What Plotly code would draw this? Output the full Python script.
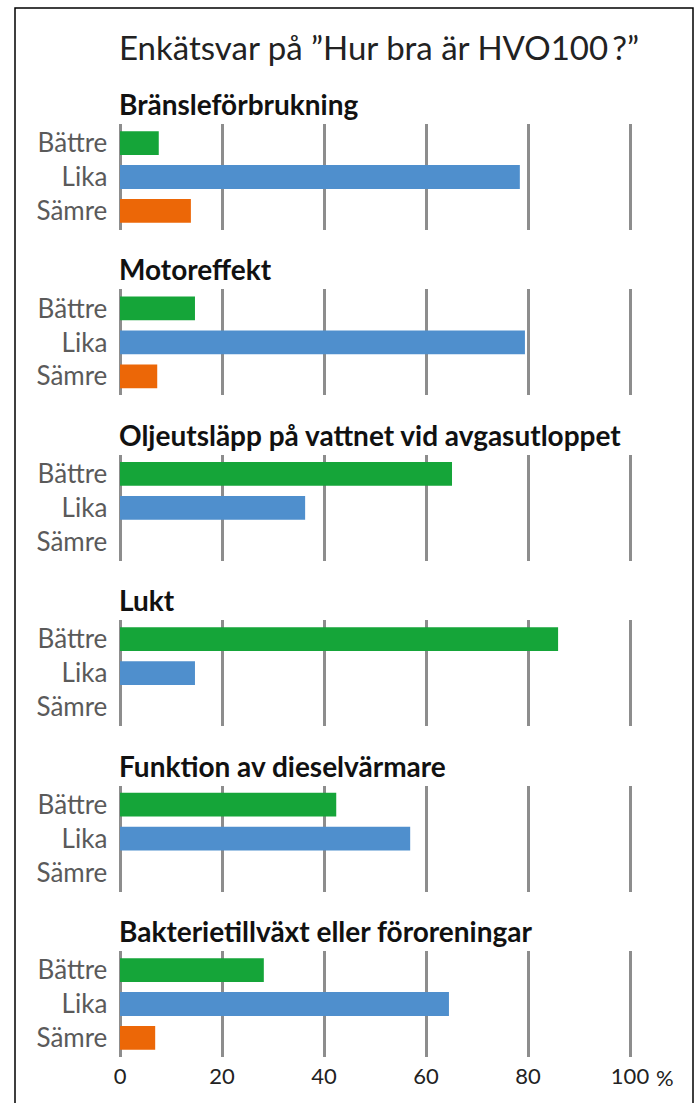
import plotly.graph_objects as go

W, H = 699, 1103

categories = ["Bättre", "Lika", "Sämre"]
topics = [
    "Bränsleförbrukning",
    "Motoreffekt",
    "Oljeutsläpp på vattnet vid avgasutloppet",
    "Lukt",
    "Funktion av dieselvärmare",
    "Bakterietillväxt eller föroreningar",
]
battre = [7.6, 14.7, 65.1, 85.9, 42.4, 28.2]
lika = [78.4, 79.4, 36.3, 14.7, 56.9, 64.5]
samre = [13.9, 7.3, 0, 0, 0, 6.9]
x_ticks = [0, 20, 40, 60, 80, 100]
x_ticktext = ["0", "20", "40", "60", "80", "100"]
title_text = "Enkätsvar på ”Hur bra är HVO100\u2009?”"

colors = ["#15a539", "#4f8fcd", "#ec6707"]
grid_col = "#8d8d8d"
FONT = "Lato, Carlito, Calibri, sans-serif"

def py(p):
    return 1 - p / H

PXU = 5.1  # px per unit
X0 = 120
xr = [-1.5, 101.5]
dom = [(X0 + xr[0] * PXU) / W, (X0 + xr[1] * PXU) / W]

fig = go.Figure()
step = 165.4
for k, name in enumerate(topics):
    off = k * step
    top, bot = 124 + off, 230 + off
    axn = "" if k == 0 else str(k + 1)
    vals = [battre[k], lika[k], samre[k]]
    fig.add_trace(go.Bar(
        x=vals, y=[0, 1, 2], orientation="h", width=0.7,
        marker=dict(color=colors, line=dict(width=0)),
        xaxis="x" + axn, yaxis="y" + axn, showlegend=False, hoverinfo="skip",
    ))
    last = k == len(topics) - 1
    fig.layout["xaxis" + axn] = dict(
        domain=dom, range=xr, automargin=False,
        tickvals=x_ticks, ticktext=x_ticktext, showticklabels=last,
        showgrid=True, gridcolor=grid_col, gridwidth=2.5, zeroline=False,
        showline=False, ticks="", anchor="y" + axn,
        tickfont=dict(family=FONT, size=22, color="#222222"),
        ticklabelstandoff=4,
        fixedrange=True,
    )
    fig.layout["yaxis" + axn] = dict(
        domain=[py(bot), py(top)], range=[2.56, -0.56], automargin=False,
        tickvals=[0, 1, 2], ticktext=categories, showgrid=False,
        zeroline=False, showline=False, ticks="", anchor="x" + axn,
        tickfont=dict(family=FONT, size=26, color="#5a5a5a"),
        ticklabelstandoff=4,
        fixedrange=True,
    )
    fig.add_annotation(
        text="<b>" + name + "</b>", x=117 / W, y=py(104 + off),
        xref="paper", yref="paper", xanchor="left", yanchor="middle",
        showarrow=False, font=dict(family=FONT, size=28, color="#111111"),
    )

fig.add_annotation(
    text="%", x=100, xref="x6", xshift=24, y=py(1077), yref="paper",
    xanchor="left", yanchor="middle", showarrow=False,
    font=dict(family=FONT, size=22, color="#222222"),
)
fig.add_annotation(
    text=title_text, x=117 / W, y=py(47), xref="paper", yref="paper",
    xanchor="left", yanchor="middle", showarrow=False,
    font=dict(family=FONT, size=33, color="#222222"),
)
fig.add_shape(type="rect", xref="paper", yref="paper",
              x0=15 / W, x1=693 / W, y0=-0.05, y1=py(8),
              line=dict(color="#000000", width=1.5))

fig.update_layout(
    width=W, height=H, margin=dict(l=0, r=0, t=0, b=0, autoexpand=False),
    paper_bgcolor="white", plot_bgcolor="white",
    bargap=0.3,
)
fig.write_html(
    "out.html",
    config={"displayModeBar": False},
    post_script="document.body.style.margin='0px';document.body.style.overflow='hidden';",
)
